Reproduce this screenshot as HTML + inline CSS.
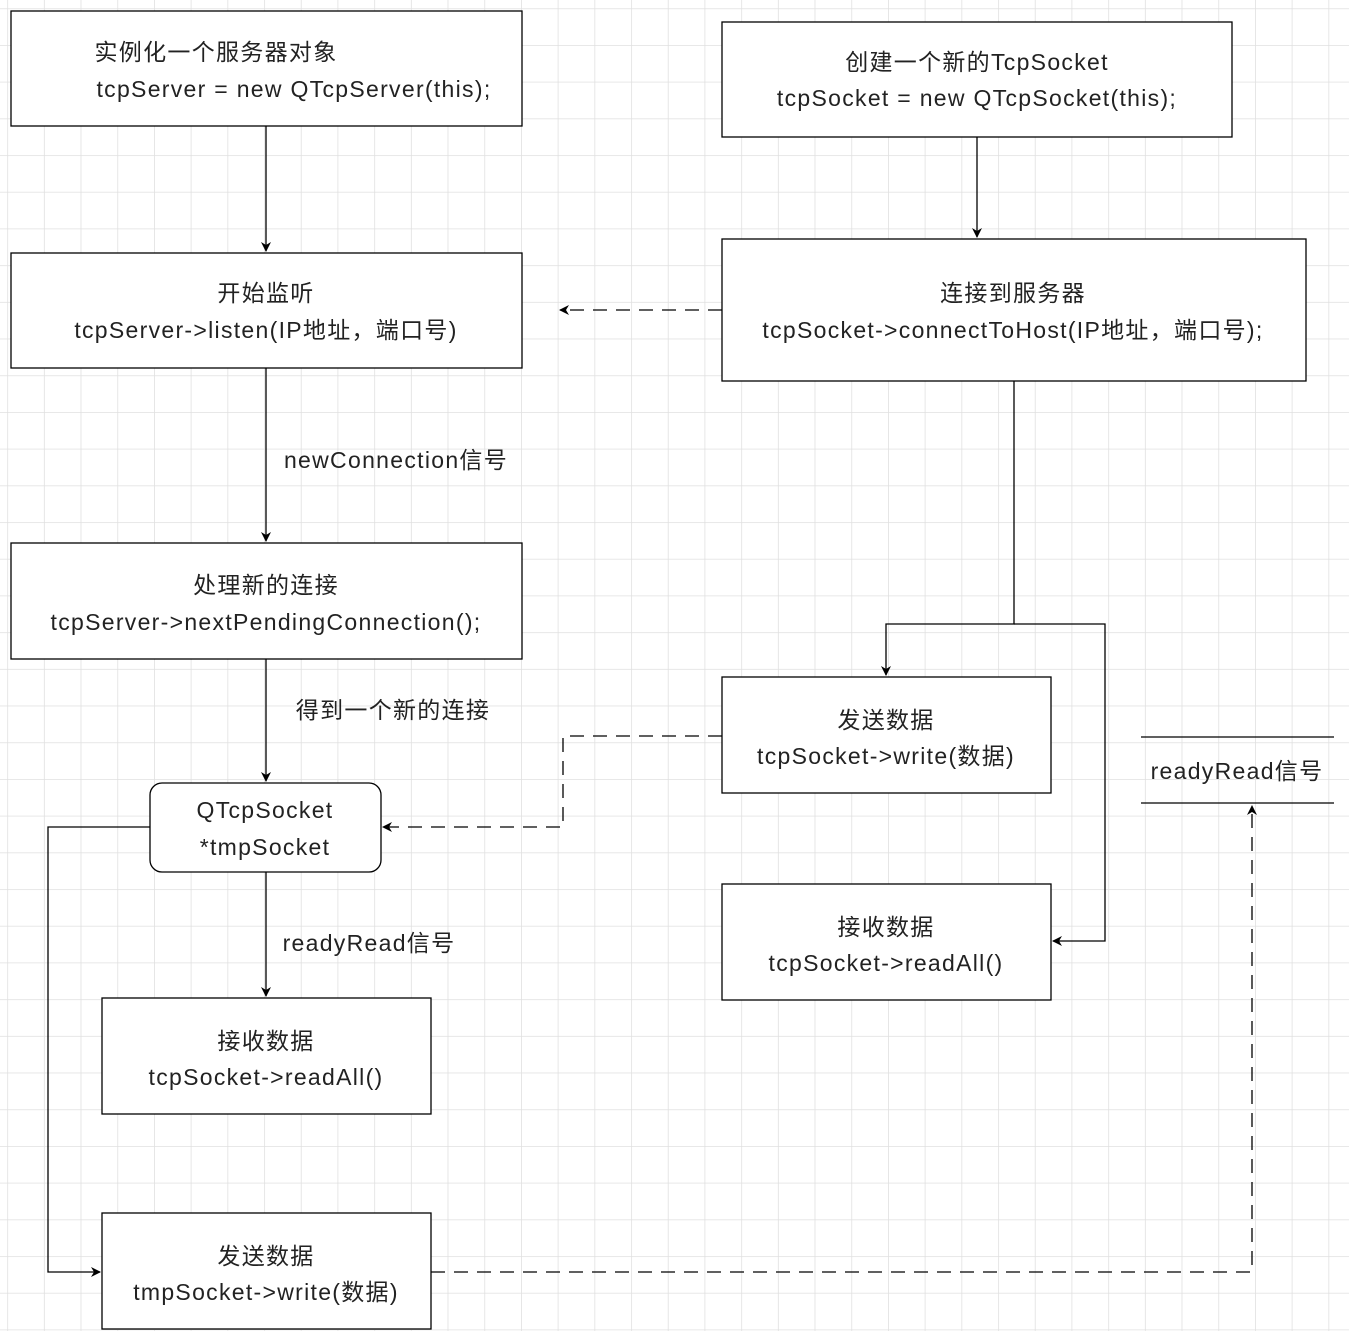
<!DOCTYPE html>
<html><head><meta charset="utf-8"><style>
html,body{margin:0;padding:0;background:#fff}
svg{display:block}
text{font-family:"Liberation Sans","Noto Sans CJK SC",sans-serif;font-size:23px;fill:#222;text-anchor:middle;letter-spacing:1.3px}
</style></head><body>
<svg width="1349" height="1331" viewBox="0 0 1349 1331" xmlns="http://www.w3.org/2000/svg">
<defs>
<pattern id="g" x="7.2" y="8.3" width="36.7" height="36.7" patternUnits="userSpaceOnUse">
<path d="M0 0H36.7M0 0V36.7" stroke="#e0e0e0" stroke-width="1.6" fill="none"/>
</pattern>
<marker id="a" markerWidth="10" markerHeight="10" refX="9" refY="5" orient="auto" markerUnits="userSpaceOnUse">
<path d="M0 0L10 5L0 10L3 5Z" fill="#000"/></marker>
</defs>
<rect width="1349" height="1331" fill="url(#g)"/>
<g fill="#fff" stroke="#000" stroke-width="1.3">
<rect x="11" y="11" width="511" height="115"/>
<rect x="722" y="22" width="510" height="115"/>
<rect x="11" y="253" width="511" height="115"/>
<rect x="722" y="239" width="584" height="142"/>
<rect x="11" y="543" width="511" height="116"/>
<rect x="150" y="783" width="231" height="89" rx="12"/>
<rect x="102" y="998" width="329" height="116"/>
<rect x="102" y="1213" width="329" height="116"/>
<rect x="722" y="677" width="329" height="116"/>
<rect x="722" y="884" width="329" height="116"/>
</g>
<g stroke="#000" stroke-width="1.3" fill="none">
<path d="M1141 737H1334M1141 803H1334"/>
<path d="M266 126V251" marker-end="url(#a)"/>
<path d="M977 137V237" marker-end="url(#a)"/>
<path d="M266 368V541" marker-end="url(#a)"/>
<path d="M266 659V781" marker-end="url(#a)"/>
<path d="M266 872V996" marker-end="url(#a)"/>
<path d="M150 827H48V1272H100" marker-end="url(#a)"/>
<path d="M1014 381V624H886V675" marker-end="url(#a)"/>
<path d="M1014 624H1105V941H1053" marker-end="url(#a)"/>
<g stroke-dasharray="14 9">
<path d="M722 310H560" marker-end="url(#a)"/>
<path d="M722 736H563V827H383" marker-end="url(#a)"/>
<path d="M431 1272H1252V806" marker-end="url(#a)"/>
</g>
</g>
<text x="216" y="60">实例化一个服务器对象</text>
<text x="294" y="97">tcpServer = new QTcpServer(this);</text>
<text x="977" y="70">创建一个新的TcpSocket</text>
<text x="977" y="106">tcpSocket = new QTcpSocket(this);</text>
<text x="266" y="301">开始监听</text>
<text x="266" y="338">tcpServer-&gt;listen(IP地址，端口号)</text>
<text x="1013" y="301">连接到服务器</text>
<text x="1013" y="338">tcpSocket-&gt;connectToHost(IP地址，端口号);</text>
<text x="396" y="468">newConnection信号</text>
<text x="266" y="593">处理新的连接</text>
<text x="266" y="630">tcpServer-&gt;nextPendingConnection();</text>
<text x="393" y="718">得到一个新的连接</text>
<text x="265" y="818">QTcpSocket</text>
<text x="265" y="855">*tmpSocket</text>
<text x="369" y="951">readyRead信号</text>
<text x="266" y="1049">接收数据</text>
<text x="266" y="1085">tcpSocket-&gt;readAll()</text>
<text x="266" y="1264">发送数据</text>
<text x="266" y="1300">tmpSocket-&gt;write(数据)</text>
<text x="886" y="728">发送数据</text>
<text x="886" y="764">tcpSocket-&gt;write(数据)</text>
<text x="886" y="935">接收数据</text>
<text x="886" y="971">tcpSocket-&gt;readAll()</text>
<text x="1237" y="779">readyRead信号</text>
</svg>
</body></html>
